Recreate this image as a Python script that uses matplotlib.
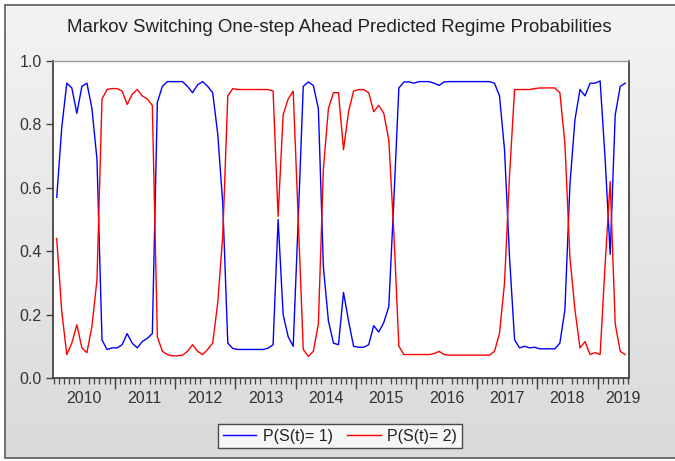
import matplotlib
matplotlib.use("Agg")
import matplotlib.pyplot as plt
import numpy as np

# Monthly one-step ahead predicted regime probabilities, Jan 2010 - Jun 2019
start_year = 2010
p_regime1 = [
    0.57, 0.79, 0.93, 0.915, 0.835, 0.92, 0.93, 0.85, 0.69, 0.12, 0.09, 0.095,  # 2010
    0.095, 0.105, 0.14, 0.11, 0.095, 0.115, 0.125, 0.14, 0.87, 0.92, 0.935, 0.935,  # 2011
    0.935, 0.935, 0.92, 0.90, 0.925, 0.935, 0.92, 0.90, 0.77, 0.55, 0.11, 0.093,  # 2012
    0.09, 0.09, 0.09, 0.09, 0.09, 0.09, 0.094, 0.105, 0.50, 0.20, 0.13, 0.10,  # 2013
    0.50, 0.92, 0.934, 0.923, 0.85, 0.35, 0.18, 0.11, 0.105, 0.27, 0.18, 0.10,  # 2014
    0.097, 0.097, 0.105, 0.165, 0.145, 0.175, 0.225, 0.56, 0.915, 0.934, 0.934, 0.93,  # 2015
    0.935, 0.935, 0.935, 0.93, 0.923, 0.934, 0.935, 0.935, 0.935, 0.935, 0.935, 0.935,  # 2016
    0.935, 0.935, 0.935, 0.93, 0.89, 0.72, 0.38, 0.12, 0.095, 0.10, 0.095, 0.097,  # 2017
    0.092, 0.092, 0.092, 0.092, 0.11, 0.215, 0.61, 0.815, 0.91, 0.89, 0.93, 0.93,  # 2018
    0.937, 0.69, 0.39, 0.83, 0.92, 0.93,  # 2019
]
p_regime2 = [
    0.44, 0.21, 0.074, 0.11, 0.168, 0.095, 0.08, 0.163, 0.31, 0.88, 0.91, 0.913,  # 2010
    0.913, 0.905, 0.863, 0.895, 0.91, 0.89, 0.88, 0.86, 0.13, 0.084, 0.074, 0.07,  # 2011
    0.07, 0.072, 0.084, 0.105, 0.084, 0.074, 0.09, 0.11, 0.237, 0.45, 0.89, 0.913,  # 2012
    0.91, 0.91, 0.91, 0.91, 0.91, 0.91, 0.91, 0.905, 0.51, 0.83, 0.88, 0.905,  # 2013
    0.50, 0.09, 0.068, 0.084, 0.17, 0.66, 0.85, 0.90, 0.90, 0.72, 0.84, 0.905,  # 2014
    0.91, 0.91, 0.90, 0.84, 0.86, 0.835, 0.75, 0.46, 0.10, 0.074, 0.074, 0.074,  # 2015
    0.074, 0.074, 0.074, 0.077, 0.084, 0.074, 0.072, 0.072, 0.072, 0.072, 0.072, 0.072,  # 2016
    0.072, 0.072, 0.072, 0.084, 0.14, 0.30, 0.64, 0.91, 0.91, 0.91, 0.91, 0.913,  # 2017
    0.915, 0.915, 0.915, 0.915, 0.90, 0.74, 0.38, 0.215, 0.095, 0.115, 0.074, 0.08,  # 2018
    0.074, 0.36, 0.62, 0.17, 0.084, 0.074,  # 2019
]
year_labels = ["2010", "2011", "2012", "2013", "2014", "2015", "2016", "2017", "2018", "2019"]
series_labels = ["P(S(t)= 1)", "P(S(t)= 2)"]
title = "Markov Switching One-step Ahead Predicted Regime Probabilities"

plt.rcParams["font.family"] = ["Liberation Sans", "DejaVu Sans"]

# Each month sits in the middle of its own interval
n = len(p_regime1)
x = start_year + (np.arange(n) + 0.5) / 12.0

fig = plt.figure(figsize=(6.75, 4.61), dpi=100, facecolor="white")

# Grey gradient panel with a thin dark frame (open on the right)
bg = fig.add_axes([0, 0, 1, 1], zorder=-10)
grad = np.linspace(0.955, 0.855, 256).reshape(-1, 1)
x0, y0, y1 = 5 / 675, 3 / 461, 1 - 5 / 461
bg.imshow(np.dstack([grad, grad, grad]), aspect="auto",
          extent=[x0, 1, y0, y1], zorder=0)
bg.plot([1, x0, x0, 1], [y1, y1, y0, y0], color="#5a5a5a", linewidth=1.2,
        zorder=1, solid_joinstyle="miter")
bg.set_xlim(0, 1)
bg.set_ylim(0, 1)
bg.axis("off")

ax = fig.add_axes([53 / 675, 1 - 378 / 461, 576 / 675, 317 / 461])
ax.set_facecolor("white")

ax.plot(x, p_regime1, color="#0000ff", linewidth=1.0, label=series_labels[0])
ax.plot(x, p_regime2, color="#ff0000", linewidth=1.0, label=series_labels[1])

ax.set_xlim(2009.98, 2019.52)
ax.set_ylim(0.0, 1.0)

# y axis
ax.set_yticks(np.arange(0, 1.01, 0.2))
ax.set_yticklabels([f"{v:.1f}" for v in np.arange(0, 1.01, 0.2)])
ax.tick_params(axis="y", direction="out", length=5, width=1, color="#444444",
               labelsize=11.5, labelcolor="#333333", pad=3)

# x axis: year labels mid-year, monthly minor ticks, long ticks at year ends
label_pos = [int(y) + 0.5 for y in year_labels]
label_pos[-1] = 2019.42
ax.set_xticks(label_pos)
ax.set_xticklabels(year_labels)
ax.tick_params(axis="x", which="major", length=0, labelsize=11.5,
               labelcolor="#333333", pad=9)
month_edges = start_year + np.arange(0, n + 1) / 12.0
ax.set_xticks(month_edges, minor=True)
ax.tick_params(axis="x", which="minor", direction="out", length=4, width=0.9,
               color="#444444")
sec = ax.secondary_xaxis("bottom")
sec.set_xticks(np.arange(2011, 2020))
sec.tick_params(length=8, width=1, color="#444444", labelbottom=False)
sec.spines["bottom"].set_visible(False)

for side in ["left", "bottom", "right"]:
    ax.spines[side].set_color("#444444")
    ax.spines[side].set_linewidth(1.3)
ax.spines["top"].set_color("#9a9a9a")
ax.spines["top"].set_linewidth(1.0)

fig.text(0.503, 1 - 27 / 461, title, ha="center", va="center",
         fontsize=13.4, color="#222222")

leg = fig.legend(loc="center", bbox_to_anchor=(340 / 675, 1 - 436 / 461), ncol=2,
                 fontsize=11.5, frameon=True, fancybox=False, handlelength=2.1,
                 columnspacing=0.9, handletextpad=0.4, borderpad=0.3)
leg.get_frame().set_edgecolor("#222222")
leg.get_frame().set_linewidth(1.0)
leg.get_frame().set_facecolor("white")
for t in leg.get_texts():
    t.set_color("#222222")

fig.savefig("out.png", dpi=100)
